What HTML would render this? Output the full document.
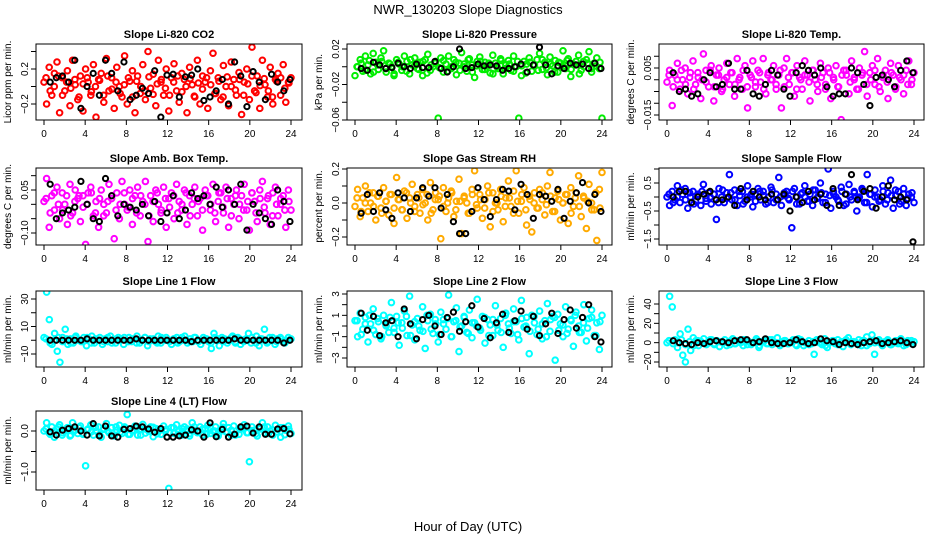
<!DOCTYPE html>
<html><head><meta charset="utf-8"><style>
html,body{margin:0;padding:0;background:#fff}
svg{display:block;font-family:"Liberation Sans",sans-serif}
</style></head><body>
<svg id="chart" width="936" height="540" viewBox="0 0 936 540">
<rect width="936" height="540" fill="#fff"/>
<text x="468" y="14" text-anchor="middle" font-size="13">NWR_130203  Slope Diagnostics</text>
<text x="468" y="531" text-anchor="middle" font-size="13">Hour of Day (UTC)</text>
</svg>
<script>
const xTicks=[0,4,8,12,16,20,24];
const titles=["Slope Li-820 CO2","Slope Li-820 Pressure","Slope Li-820 Temp.","Slope Amb. Box Temp.","Slope Gas Stream RH","Slope Sample Flow","Slope Line 1 Flow","Slope Line 2 Flow","Slope Line 3 Flow","Slope Line 4 (LT) Flow"];
const yTitles=["Licor ppm per min.","kPa per min.","degrees C per min.","degrees C per min.","percent per min.","ml/min per min.","ml/min per min.","ml/min per min.","ml/min per min.","ml/min per min."];
const yTicks1=[-0.2,0,0.2,0.4];const yLab1=["-0.2","","0.2",""];
const yTicks2=[0.02,0,-0.02,-0.04,-0.06];const yLab2=["0.02","","-0.02","","-0.06"];
const yTicks3=[0.01,0.005,0,-0.005,-0.01,-0.015];const yLab3=["","0.005","","","","-0.015"];
const yTicks4=[0.1,0.05,0,-0.05,-0.1];const yLab4=["","0.05","","","-0.10"];
const yTicks5=[0.2,0.1,0,-0.1,-0.2];const yLab5=["0.2","","0.0","","-0.2"];
const yTicks6=[1,0.5,0,-0.5,-1,-1.5];const yLab6=["","0.5","","-0.5","","-1.5"];
const yTicks7=[30,20,10,0,-10];const yLab7=["30","","10","","-10"];
const yTicks8=[3,2,1,0,-1,-2,-3];const yLab8=["3","","1","","-1","","-3"];
const yTicks9=[40,30,20,10,0,-10,-20];const yLab9=["40","","20","","0","","-20"];
const yTicks10=[0,-0.5,-1];const yLab10=["0.0","","-1.0"];

const co2=[0.05,-0.2,0.22,-0.1,0.15,0.28,-0.3,0.1,-0.05,0.18,-0.22,0.3,0.02,-0.15,0.12,-0.28,0.2,0.05,-0.1,0.25,-0.35,0.08,0.15,-0.18,0.32,-0.05,0.1,-0.25,0.22,0.0,-0.12,0.35,-0.2,0.06,0.18,-0.3,0.12,-0.08,0.25,-0.15,0.4,-0.02,0.14,-0.22,0.3,0.05,-0.1,0.2,-0.28,0.1,0.26,-0.05,-0.18,0.15,0.08,-0.3,0.22,0.02,-0.12,0.3,-0.2,0.12,0.05,-0.25,0.18,0.38,-0.08,0.1,-0.15,0.24,0.0,-0.22,0.28,0.08,-0.1,0.16,-0.32,0.05,0.2,-0.15,0.45,-0.05,0.12,-0.25,0.3,0.02,-0.12,0.22,-0.2,0.08,0.15,-0.1,0.25,-0.18,0.05,0.1];
const pres=[-0.01,0.0,0.008,-0.005,0.012,0.002,-0.008,0.015,0.005,-0.003,0.01,0.018,-0.006,0.004,0.0,-0.01,0.008,0.003,-0.004,0.012,0.006,-0.008,0.002,0.01,-0.002,0.005,-0.01,0.008,0.014,-0.004,0.0,0.006,-0.058,0.01,-0.006,0.003,0.012,-0.002,0.008,-0.009,0.004,0.016,0.0,-0.005,0.009,0.002,-0.012,0.006,0.011,-0.003,0.005,0.001,-0.007,0.013,0.004,-0.002,0.009,-0.008,0.002,0.007,-0.004,0.012,0.0,-0.058,-0.01,0.006,0.003,0.01,-0.005,0.002,0.008,0.015,-0.003,0.005,-0.009,0.011,0.001,0.007,-0.006,0.004,0.018,-0.002,0.009,-0.011,0.003,0.006,0.013,-0.004,0.0,0.008,0.017,-0.006,0.004,0.01,-0.002,-0.058];
const temp=[-0.001,0.004,-0.011,0.002,0.007,-0.004,0.0,0.005,-0.006,0.003,0.008,-0.002,0.001,-0.008,0.011,0.004,-0.003,0.006,-0.009,0.002,0.005,-0.005,0.0,0.007,-0.002,0.003,-0.007,0.009,0.001,-0.004,0.006,-0.012,0.002,0.008,-0.003,0.004,-0.001,0.009,-0.006,0.003,0.0,0.006,-0.004,0.002,-0.012,0.005,0.009,-0.002,0.003,-0.007,0.006,0.001,-0.004,0.008,0.002,-0.009,0.004,0.0,-0.005,0.007,0.003,-0.002,0.005,-0.008,0.001,0.006,-0.003,-0.017,0.004,0.002,-0.006,0.008,0.0,-0.004,0.005,0.002,0.012,-0.007,0.003,0.006,-0.002,0.009,-0.005,0.001,0.004,-0.008,0.007,0.002,-0.003,0.006,0.0,-0.006,0.004,0.008,-0.002,0.003];
const amb=[0.01,0.09,-0.08,0.03,-0.02,0.06,-0.05,0.04,0.0,-0.07,0.07,-0.03,0.05,0.02,-0.06,0.03,-0.14,0.04,0.06,-0.04,0.01,-0.08,0.05,0.0,-0.03,0.07,0.02,-0.12,0.04,-0.05,0.08,0.0,-0.02,0.05,-0.07,0.03,0.06,-0.04,0.01,0.08,-0.13,0.03,-0.06,0.05,0.0,-0.03,0.06,-0.08,0.02,0.04,-0.05,0.07,0.01,-0.02,0.05,-0.07,0.03,0.0,0.06,-0.04,0.02,-0.09,0.05,0.03,-0.02,0.07,-0.06,0.01,0.04,-0.03,0.06,-0.08,0.02,0.0,0.05,-0.05,0.03,0.07,-0.02,-0.09,0.04,0.01,-0.06,0.05,0.08,-0.03,0.02,-0.07,0.04,0.06,-0.04,0.0,0.03,-0.08,0.05,-0.02];
const rh=[-0.02,0.08,-0.08,0.03,0.1,-0.05,0.0,0.06,-0.1,0.04,-0.03,0.09,0.01,-0.07,0.05,-0.12,0.15,0.02,-0.04,0.07,-0.09,0.03,0.11,-0.02,0.05,-0.06,0.08,0.0,-0.1,0.12,-0.04,0.06,0.02,-0.21,0.09,-0.05,0.03,0.07,-0.08,0.01,0.14,-0.18,0.04,0.0,-0.06,0.08,0.19,-0.03,0.05,-0.09,0.02,0.1,-0.14,0.06,0.0,-0.04,0.08,-0.11,0.03,0.13,-0.02,0.07,0.19,-0.06,0.01,0.09,-0.13,0.04,-0.17,0.06,-0.03,0.08,0.02,-0.07,0.1,0.18,-0.05,0.03,0.07,-0.1,0.0,0.05,-0.12,0.09,-0.02,0.06,0.16,-0.08,0.03,-0.15,0.11,0.0,-0.04,-0.22,0.08,0.18];
const sflow=[0.0,-0.3,0.2,-0.1,0.4,-0.2,0.1,0.3,-0.4,0.0,0.2,-0.15,0.1,-0.3,0.45,-0.05,0.15,-0.25,0.1,-0.8,0.3,0.0,-0.2,0.15,0.8,-0.1,0.25,-0.3,0.05,0.2,-0.15,0.4,0.0,-0.35,0.1,0.3,-0.1,0.2,-0.25,0.0,0.35,-0.2,0.1,0.7,-0.3,0.05,0.2,-0.1,-1.1,0.3,0.0,-0.25,0.15,0.4,-0.15,0.1,-0.3,0.25,0.0,0.5,-0.2,0.1,1.0,-0.4,0.2,0.0,-0.15,0.35,-0.3,0.1,0.45,-0.1,0.2,-0.5,0.0,0.3,-0.2,0.8,0.1,-0.35,0.25,0.0,-0.1,0.4,-0.25,0.15,0.6,-0.4,0.05,0.2,-0.15,0.3,-0.3,0.1,0.0,-0.2];
const line1=[2,35,15,-3,5,-8,-16,2,8,-3,1,-2,3,0,-1,2,-4,1,3,-2,0,2,-3,1,-1,3,0,-2,2,1,-3,0,2,-1,1,3,-2,0,2,-4,1,0,-1,3,-2,1,2,0,-3,1,2,-1,0,3,-2,1,-1,2,0,-3,2,1,-1,-6,5,0,-4,2,1,-2,0,3,-1,2,-3,0,1,5,-2,0,3,-4,1,8,-2,2,0,-3,1,2,-1,0,2,1];
const line2=[0.5,-1,1.2,-0.3,0.8,-1.5,0.2,1.6,-0.8,0.4,-1.2,1.0,0.0,-0.6,2.2,-0.2,0.9,-1.8,0.3,1.4,-0.9,2.8,0.1,-1.3,0.7,-0.4,1.8,-2.1,0.5,1.1,-0.7,0.2,-1.5,1.3,0.6,-0.3,2.9,-1.0,0.4,1.7,-2.4,0.0,0.8,-0.6,1.5,-1.1,0.3,2.5,-0.2,0.9,-1.6,0.6,0.1,-0.9,1.9,-0.4,0.7,-2.0,1.2,0.2,-0.7,1.6,0.4,-1.3,2.4,-0.1,0.8,-2.6,1.0,0.3,-0.8,1.4,-1.2,0.5,2.1,-0.5,0.9,-3.2,1.1,0.2,-1.0,1.8,-0.3,0.6,-1.9,1.3,0.0,-0.6,2.0,-1.4,0.7,1.5,-0.9,0.3,-2.2,1.0];
const line3=[0,48,37,3,-5,9,-13,-20,14,-8,5,2,-3,1,4,-2,0,3,-1,2,-4,1,3,0,-2,4,-1,2,0,-3,3,1,-2,0,4,-5,1,2,-1,3,-2,0,5,-3,1,2,-1,0,3,-2,4,1,-3,0,2,-1,-12,3,0,-2,4,-5,1,2,-1,3,0,-4,2,5,-2,1,0,3,-3,2,6,-1,8,-12,2,0,-3,1,3,-2,0,2,-1,4,1,-2,0,2,1];
const line4=[0.0,0.2,-0.05,0.1,-0.15,0.05,0.15,-0.1,0.0,0.08,-0.12,0.2,0.02,-0.06,0.12,-0.08,-0.85,0.05,0.15,-0.1,0.0,0.1,-0.15,0.06,0.18,-0.04,0.08,-0.12,0.02,0.14,-0.06,0.1,0.4,-0.08,0.0,0.12,-0.1,0.05,0.16,-0.05,0.02,0.1,-0.14,0.06,0.0,-0.08,0.12,0.04,-1.4,0.08,-0.06,0.15,0.0,-0.1,0.1,0.05,-0.12,0.2,0.02,-0.04,0.1,-0.1,0.06,0.14,-0.06,0.0,0.1,-0.12,0.04,0.18,-0.02,0.08,-0.1,0.12,0.0,-0.08,0.05,0.15,-0.04,-0.75,0.1,0.02,-0.12,0.06,0.2,-0.05,0.1,0.0,-0.1,0.14,0.04,-0.15,0.08,0.02,0.12,-0.06];

const co2Core=[0.1,-0.05,0.0,0.12,-0.1,0.05,-0.02,0.08,-0.12,0.03,0.1,-0.06,0.0,0.07,-0.1,0.12,-0.03,0.05,-0.08,0.02,0.1,-0.12,0.06,0.0,-0.05,0.11,-0.09,0.03,0.08,-0.02,-0.1,0.05,0.12,-0.06,0.0,0.09,-0.11,0.04,-0.03,0.1,0.02,-0.08,0.06,-0.12,0.11,0.0,-0.04,0.08,-0.1,0.03,0.12,-0.07,0.01,0.09,-0.05,-0.12,0.06,0.1,-0.02,0.04];
const presCore=[0.0,0.004,-0.004,0.007,-0.006,0.002,0.006,-0.002,0.003,-0.008,0.005,0.0,-0.005,0.008,0.001,-0.003,0.006,-0.007,0.002,0.004,-0.001,0.007,-0.005,0.0,0.005,-0.004,0.003,0.008,-0.006,0.001,0.006,-0.003,0.004,-0.008,0.0,0.007,-0.002,0.003,-0.005,0.006,0.001,-0.007,0.005,0.002,-0.004,0.008,-0.001,0.003,-0.006,0.005,0.0,0.007,-0.003,0.002,-0.008,0.006,0.004,-0.002,0.001,0.005];
const tempCore=[0.002,-0.003,0.0,0.004,-0.002,0.001,-0.004,0.003,0.0,-0.001,0.004,-0.003,0.002,-0.004,0.001,0.003,-0.002,0.0,0.004,-0.003,0.001,-0.001,0.003,-0.004,0.002,0.0,-0.002,0.004,-0.003,0.001,0.003,-0.004,0.0,0.002,-0.001,0.004,-0.002,0.001,-0.004,0.003,0.0,-0.003,0.002,0.004,-0.001,0.001,-0.004,0.003,-0.002,0.0,0.004,-0.003,0.002,-0.001,0.003,-0.004,0.001,0.002,-0.002,0.0];
const ambCore=[0.02,-0.03,0.04,0.0,-0.02,0.03,-0.04,0.01,0.03,-0.01,0.0,0.04,-0.03,0.02,-0.04,0.01,0.03,-0.02,0.0,0.04,-0.01,0.02,-0.03,0.03,0.0,-0.04,0.01,0.04,-0.02,0.02,-0.01,0.03,-0.03,0.0,0.04,-0.04,0.02,0.01,-0.02,0.03,0.0,-0.03,0.04,-0.01,0.02,-0.04,0.03,0.0,-0.02,0.01,0.04,-0.03,0.02,-0.01,0.03,-0.04,0.0,0.02,-0.02,0.01];
const rhCore=[0.03,-0.05,0.0,0.06,-0.02,0.04,-0.06,0.01,0.05,-0.03,0.02,-0.04,0.06,0.0,-0.05,0.03,-0.01,0.05,-0.06,0.02,0.04,-0.02,0.0,0.06,-0.04,0.01,0.03,-0.06,0.05,-0.01,0.02,-0.03,0.06,-0.05,0.0,0.04,-0.02,0.03,-0.06,0.01,0.05,-0.04,0.02,0.0,-0.03,0.06,-0.01,0.04,-0.05,0.02,0.0,0.05,-0.06,0.03,-0.02,0.04,0.01,-0.04,0.06,-0.03];
const sflowCore=[0.1,-0.2,0.0,0.25,-0.1,0.15,-0.25,0.05,0.2,-0.15,0.0,0.1,-0.2,0.25,-0.05,0.15,-0.1,0.2,-0.25,0.0,0.1,-0.15,0.2,0.05,-0.2,0.25,-0.1,0.0,0.15,-0.05,0.2,-0.25,0.1,0.0,-0.15,0.25,-0.05,0.15,-0.2,0.05,0.1,-0.1,0.2,-0.25,0.0,0.15,-0.05,0.25,-0.2,0.1,0.0,-0.15,0.2,-0.1,0.05,0.25,-0.25,0.1,-0.05,0.15];
const line1Core=[1,-2,0,2,-1,1,-2,2,0,-1,2,-2,1,0,-1,2,-2,1,0,2,-1,1,-2,0,2,-1,1,-2,2,0,-1,1,-2,2,0,-1,2,-1,0,1,-2,2,1,-1,0,2,-2,1,-1,0,2,-2,1,0,-1,2,-1,1,-2,0];
const line2Core=[0.5,-0.8,0.2,1.0,-0.4,0.7,-1.0,0.1,0.8,-0.6,0.3,-0.2,0.9,-0.9,0.4,0.0,-0.5,1.0,-0.3,0.6,-0.8,0.2,0.7,-1.0,0.5,-0.1,0.9,-0.7,0.3,0.0,-0.4,0.8,-0.9,0.6,0.1,-0.6,1.0,-0.2,0.4,-0.8,0.7,0.0,-0.5,0.9,-0.3,0.2,-1.0,0.6,0.8,-0.4,0.1,-0.7,0.5,1.0,-0.6,0.3,-0.2,0.8,-0.9,0.4];
const line3Core=[2,-1,0,3,-2,1,-3,2,0,-1,3,-2,1,0,-3,2,-1,1,3,-2,0,2,-3,1,-1,3,0,-2,2,-1,1,-3,3,0,-2,1,2,-1,-3,0,2,-2,1,3,-1,0,-2,2,-3,1,0,3,-1,2,-2,0,1,-3,2,-1];
const line4Core=[0.05,-0.08,0.0,0.1,-0.04,0.06,-0.1,0.02,0.08,-0.06,0.03,-0.02,0.09,-0.09,0.04,0.0,-0.05,0.1,-0.03,0.06,-0.08,0.02,0.07,-0.1,0.05,-0.01,0.09,-0.07,0.03,0.0,-0.04,0.08,-0.09,0.06,0.01,-0.06,0.1,-0.02,0.04,-0.08,0.07,0.0,-0.05,0.09,-0.03,0.02,-0.1,0.06,0.08,-0.04,0.01,-0.07,0.05,0.1,-0.06,0.03,-0.02,0.08,-0.09,0.04];

const co2B=[0.05,0.1,0.12,0.05,0.3,-0.25,0.0,0.15,-0.1,0.3,0.15,-0.05,0.28,-0.15,-0.1,-0.02,-0.08,0.18,-0.35,0.13,0.14,-0.12,0.11,0.13,0.2,-0.16,-0.12,-0.05,0.08,-0.2,0.28,0.12,-0.23,0.17,0.05,-0.15,0.14,0.05,-0.05,0.08];
const presB=[-0.002,-0.004,0.005,0.002,-0.002,-0.001,0.004,0.0,-0.002,0.003,-0.001,-0.001,0.006,-0.002,-0.006,0.0,0.02,-0.002,-0.001,0.003,0.001,0.002,0.001,-0.004,-0.002,0.0,0.003,-0.006,0.002,0.022,0.002,-0.008,0.001,-0.002,0.004,0.002,0.003,-0.002,0.004,-0.002];
const tempB=[0.003,-0.005,-0.004,-0.007,-0.006,0.0,0.003,-0.003,-0.002,0.007,-0.004,-0.004,0.004,-0.006,-0.007,-0.002,0.004,0.002,-0.004,-0.007,0.003,0.006,0.004,0.002,0.005,-0.003,-0.007,-0.006,-0.006,0.005,0.003,-0.002,-0.011,0.001,0.002,0.0,-0.003,0.004,0.008,0.003];
const ambB=[0.07,-0.05,-0.03,-0.02,-0.01,0.08,0.0,-0.05,-0.06,0.09,0.03,-0.04,0.0,-0.01,-0.02,0.0,-0.04,0.01,-0.06,-0.03,0.03,-0.05,-0.02,0.04,0.02,0.03,0.0,0.06,-0.01,0.05,0.0,0.07,-0.09,0.0,-0.03,-0.05,-0.07,0.05,0.01,-0.06];
const rhB=[-0.06,0.05,-0.05,0.06,-0.04,-0.09,0.06,0.03,-0.05,0.03,0.09,0.04,0.09,-0.03,0.05,-0.11,-0.18,-0.18,-0.05,0.09,0.02,-0.08,0.02,0.08,0.07,-0.04,0.11,0.05,-0.09,0.05,0.04,0.01,0.08,-0.09,0.01,0.06,0.12,0.0,0.05,-0.05];
const sflowB=[0.0,0.2,0.2,-0.2,0.0,0.1,0.2,-0.1,-0.1,0.0,-0.3,0.3,-0.1,0.2,0.0,-0.1,0.1,-0.1,0.1,-0.5,0.0,-0.2,0.2,-0.1,0.1,-0.3,0.3,-0.3,0.1,0.8,-0.1,0.2,0.3,-0.4,0.0,0.4,-0.1,0.0,-0.1,-1.6];
const line1B=[0,0,0,0,0,0,1,0,0,0,0,0,0,0,1,0,0,0,0,0,0,0,0,-1,0,0,0,0,0,0,1,0,0,0,0,0,0,0,-2,0];
const line2B=[1.2,-0.4,0.9,-0.9,0.3,0.5,-1.0,1.6,0.2,-1.2,0.6,1.0,0.0,-0.8,0.8,1.3,-0.5,0.4,1.9,-0.1,0.7,-1.1,0.3,1.1,-0.6,0.5,1.4,-0.3,0.9,-0.9,0.2,1.2,-0.7,0.6,1.5,-0.2,0.8,2.0,-1.0,-1.5];
const line3B=[2,0,-1,-2,0,-1,1,2,1,0,2,3,3,0,1,4,0,-1,-1,0,3,1,-1,0,4,2,1,-2,0,-1,-2,0,1,2,-1,0,1,2,0,-2];
const line4B=[-0.02,-0.1,0.02,0.06,0.1,0.0,-0.1,0.18,-0.12,0.12,-0.12,-0.15,0.04,0.06,0.12,0.1,0.05,-0.03,0.06,-0.15,-0.15,-0.12,-0.1,0.03,0.0,-0.15,0.2,-0.14,0.04,-0.15,-0.08,0.1,0.12,-0.05,0.1,-0.08,-0.08,0.05,0.06,-0.07];

const NS="http://www.w3.org/2000/svg";
const svg=document.getElementById('chart');
const colL=[36,347,659],colR=[302,612,924];
const rowT=[44,168,291,411],rowB=[120,245,367,490];
// axis calibration: [value1,pixel1,value2,pixel2]
const anchors=[[0.2,69,-0.2,104],[0.02,49,-0.06,120],[0.005,68,-0.015,115],[0.05,190,-0.1,233],[0.2,169,-0.2,237],[0.5,183,-1.5,239],[30,299,-10,354],[3,294,-3,358],[40,304,-20,362],[0,431,-1,472]];
const panels=[
 {c:co2,k:co2Core,b:co2B,t:yTicks1,l:yLab1,col:"#ff0000",name:"co2"},
 {c:pres,k:presCore,b:presB,t:yTicks2,l:yLab2,col:"#00ee00",name:"pressure"},
 {c:temp,k:tempCore,b:tempB,t:yTicks3,l:yLab3,col:"#ff00ff",name:"licor-temp"},
 {c:amb,k:ambCore,b:ambB,t:yTicks4,l:yLab4,col:"#ff00ff",name:"amb-box-temp"},
 {c:rh,k:rhCore,b:rhB,t:yTicks5,l:yLab5,col:"#ffaa00",name:"gas-stream-rh"},
 {c:sflow,k:sflowCore,b:sflowB,t:yTicks6,l:yLab6,col:"#0000ff",name:"sample-flow"},
 {c:line1,k:line1Core,b:line1B,t:yTicks7,l:yLab7,col:"#00ffff",name:"line1-flow"},
 {c:line2,k:line2Core,b:line2B,t:yTicks8,l:yLab8,col:"#00ffff",name:"line2-flow"},
 {c:line3,k:line3Core,b:line3B,t:yTicks9,l:yLab9,col:"#00ffff",name:"line3-flow"},
 {c:line4,k:line4Core,b:line4B,t:yTicks10,l:yLab10,col:"#00ffff",name:"line4-flow"}];
function mk(tag,attrs,parent){const e=document.createElementNS(NS,tag);for(const k in attrs)e.setAttribute(k,attrs[k]);(parent||svg).appendChild(e);return e;}

panels.forEach((p,i)=>{
 const col=i%3,row=Math.floor(i/3);
 const L=colL[col],R=colR[col],T=rowT[row],B=rowB[row];
 const x0=L+8,x24=L+255;
 const xs=h=>x0+(x24-x0)*h/24;
 const a=anchors[i];
 const ys=v=>a[1]+(v-a[0])*(a[3]-a[1])/(a[2]-a[0]);
 const g=mk('g',{});
 
 
 const clip=mk('clipPath',{id:'cp'+i},g);
 mk('rect',{x:L,y:T,width:R-L,height:B-T},clip);
 const tt=mk('text',{x:(L+R)/2,y:T-6,'text-anchor':'middle','font-size':11,'font-weight':'bold'},g);
 tt.textContent=titles[i];
 
 
 const yt=mk('text',{transform:`translate(${L-25},${(T+B)/2}) rotate(-90)`,'text-anchor':'middle','font-size':10},g);
 yt.textContent=yTitles[i];
 
 
 const pg=mk('g',{'clip-path':`url(#cp${i})`},g);
 
 
 const nk=p.k.length;
 p.k.forEach((v,k)=>{
  const c=mk('circle',{cx:xs((k+0.5)*24/nk),cy:ys(v),r:2.8,fill:'none',stroke:p.col,'stroke-width':2},pg);
  
  
 });
 const n=p.c.length;
 p.c.forEach((v,k)=>{
  const c=mk('circle',{cx:xs(k*24/(n-1)),cy:ys(v),r:2.8,fill:'none',stroke:p.col,'stroke-width':2},pg);
  
  
 });
 const nb=p.b.length;
 p.b.forEach((v,k)=>{
  const c=mk('circle',{cx:xs(0.6+k*23.3/(nb-1)),cy:ys(v),r:2.6,fill:'none',stroke:'#000','stroke-width':2},pg);
  
  
 });
 const box=mk('rect',{x:L,y:T,width:R-L,height:B-T,fill:'none',stroke:'#000','stroke-width':1},g);
 
 
 xTicks.forEach(h=>{
  mk('line',{x1:xs(h),x2:xs(h),y1:B,y2:B+5,stroke:'#000'},g);
  const t=mk('text',{x:xs(h),y:B+17,'text-anchor':'middle','font-size':10},g);
  t.textContent=h;
  
  
 });
 p.t.forEach((v,k)=>{
  const y=ys(v);
  mk('line',{x1:L-5,x2:L,y1:y,y2:y,stroke:'#000'},g);
  if(p.l[k]){
   const t=mk('text',{transform:`translate(${L-8},${y}) rotate(-90)`,'text-anchor':'middle','font-size':10},g);
   t.textContent=p.l[k].replace('-','\u2212');
   
   
  }
 });
});
</script>
</body></html>
